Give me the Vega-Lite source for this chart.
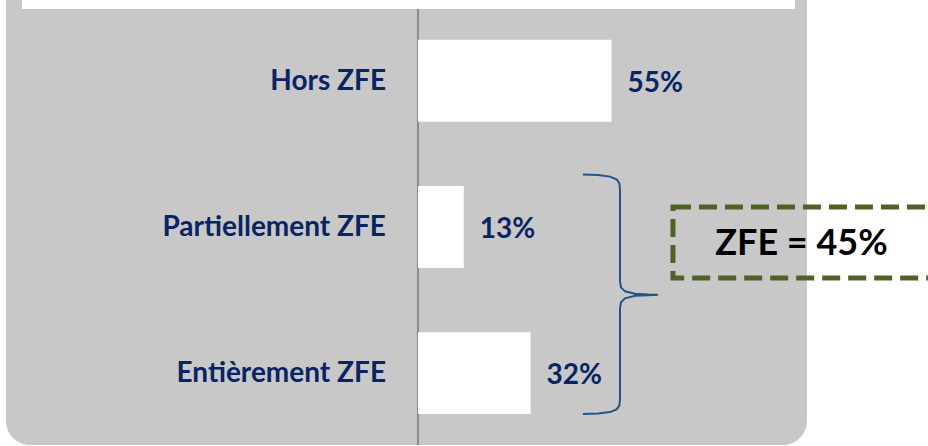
{
  "$schema": "https://vega.github.io/schema/vega-lite/v6.json",
  "width": 928,
  "height": 446,
  "autosize": {"type": "fit", "contains": "padding"},
  "padding": 0,
  "background": "white",
  "config": {"view": {"stroke": null}},
  "resolve": {"scale": {"y": "independent"}},
  "datasets": {
    "bars": [
      {"cat": "Hors ZFE", "v": 55, "lab": "55%"},
      {"cat": "Partiellement ZFE", "v": 13, "lab": "13%"},
      {"cat": "Entièrement ZFE", "v": 32, "lab": "32%"}
    ],
    "brace": [
      {"o": 1, "x": 46.88, "y": 175},
      {"o": 2, "x": 51.14, "y": 175.5},
      {"o": 3, "x": 54.55, "y": 177},
      {"o": 4, "x": 56.53, "y": 180},
      {"o": 5, "x": 57.24, "y": 184},
      {"o": 6, "x": 57.39, "y": 190},
      {"o": 7, "x": 57.39, "y": 282},
      {"o": 8, "x": 57.67, "y": 288},
      {"o": 9, "x": 58.81, "y": 292},
      {"o": 10, "x": 61.65, "y": 294.5},
      {"o": 11, "x": 65.34, "y": 295.2},
      {"o": 12, "x": 68.18, "y": 295.5},
      {"o": 13, "x": 65.34, "y": 295.8},
      {"o": 14, "x": 61.65, "y": 296.5},
      {"o": 15, "x": 58.81, "y": 299},
      {"o": 16, "x": 57.67, "y": 303},
      {"o": 17, "x": 57.39, "y": 309},
      {"o": 18, "x": 57.39, "y": 400},
      {"o": 19, "x": 57.24, "y": 406},
      {"o": 20, "x": 56.53, "y": 410},
      {"o": 21, "x": 54.55, "y": 413},
      {"o": 22, "x": 51.14, "y": 414.5},
      {"o": 23, "x": 46.88, "y": 415}
    ]
  },
  "layer": [
    {
      "data": {"values": [{}]},
      "mark": {"type": "rect", "fill": "#c8c8c8", "cornerRadius": 24, "clip": true},
      "encoding": {
        "x": {"datum": -117.05, "type": "quantitative", "scale": {"domain": [-118.75, 144.9], "nice": false, "zero": false}, "axis": null},
        "x2": {"datum": 110.51},
        "y": {"datum": -40, "type": "quantitative", "scale": {"domain": [0, 446], "reverse": true, "nice": false, "zero": false}, "axis": null},
        "y2": {"datum": 446}
      }
    },
    {
      "data": {"values": [{}]},
      "mark": {"type": "rect", "fill": "white", "clip": true},
      "encoding": {
        "x": {"datum": -112.5, "type": "quantitative", "scale": {"domain": [-118.75, 144.9], "nice": false, "zero": false}, "axis": null},
        "x2": {"datum": 107.1},
        "y": {"datum": -20, "type": "quantitative", "scale": {"domain": [0, 446], "reverse": true, "nice": false, "zero": false}, "axis": null},
        "y2": {"datum": 9}
      }
    },
    {
      "data": {"values": [{}]},
      "mark": {"type": "rule", "color": "#8c8c8c", "strokeWidth": 2},
      "encoding": {
        "x": {"datum": 0, "type": "quantitative", "scale": {"domain": [-118.75, 144.9], "nice": false, "zero": false}, "axis": null},
        "y": {"datum": 9, "type": "quantitative", "scale": {"domain": [0, 446], "reverse": true, "nice": false, "zero": false}, "axis": null},
        "y2": {"datum": 446}
      }
    },
    {
      "data": {"name": "bars"},
      "layer": [
        {
          "mark": {"type": "bar", "fill": "white"},
          "encoding": {
            "x": {"field": "v", "type": "quantitative", "scale": {"domain": [-118.75, 144.9], "nice": false, "zero": false}, "axis": null},
            "x2": {"datum": 0}
          }
        },
        {
          "mark": {"type": "text", "align": "right", "baseline": "middle", "dx": -32, "dy": 1, "font": "Lato", "fontWeight": "bold", "fontSize": 28, "color": "#0a2463"},
          "encoding": {
            "x": {"datum": 0, "type": "quantitative", "scale": {"domain": [-118.75, 144.9], "nice": false, "zero": false}, "axis": null},
            "text": {"field": "cat"}
          }
        },
        {
          "mark": {"type": "text", "align": "left", "baseline": "middle", "dx": 16, "dy": 3, "font": "Lato", "fontWeight": "bold", "fontSize": 28, "color": "#0a2463"},
          "encoding": {
            "x": {"field": "v", "type": "quantitative", "scale": {"domain": [-118.75, 144.9], "nice": false, "zero": false}, "axis": null},
            "text": {"field": "lab"}
          }
        }
      ],
      "encoding": {
        "y": {"field": "cat", "type": "nominal", "sort": ["Hors ZFE", "Partiellement ZFE", "Entièrement ZFE"], "scale": {"paddingInner": 0.44, "paddingOuter": 0.242, "align": 0.563}, "axis": null}
      }
    },
    {
      "data": {"name": "brace"},
      "mark": {"type": "line", "color": "#23538a", "strokeWidth": 2},
      "encoding": {
        "x": {"field": "x", "type": "quantitative", "scale": {"domain": [-118.75, 144.9], "nice": false, "zero": false}, "axis": null},
        "y": {"field": "y", "type": "quantitative", "scale": {"domain": [0, 446], "reverse": true, "nice": false, "zero": false}, "axis": null},
        "order": {"field": "o"}
      }
    },
    {
      "data": {"values": [{}]},
      "mark": {"type": "rect", "fill": null, "fillOpacity": 0, "stroke": "#4f6228", "strokeWidth": 5, "strokeDash": [18, 8], "clip": true},
      "encoding": {
        "x": {"datum": 72.44, "type": "quantitative", "scale": {"domain": [-118.75, 144.9], "nice": false, "zero": false}, "axis": null},
        "x2": {"datum": 160},
        "y": {"datum": 207.5, "type": "quantitative", "scale": {"domain": [0, 446], "reverse": true, "nice": false, "zero": false}, "axis": null},
        "y2": {"datum": 278.5}
      }
    },
    {
      "data": {"values": [{"t": "ZFE = 45%"}]},
      "mark": {"type": "text", "align": "center", "baseline": "middle", "font": "Lato", "fontWeight": "bold", "fontSize": 36, "color": "black"},
      "encoding": {
        "x": {"datum": 108.95, "type": "quantitative", "scale": {"domain": [-118.75, 144.9], "nice": false, "zero": false}, "axis": null},
        "y": {"datum": 245, "type": "quantitative", "scale": {"domain": [0, 446], "reverse": true, "nice": false, "zero": false}, "axis": null},
        "text": {"field": "t"}
      }
    }
  ]
}
